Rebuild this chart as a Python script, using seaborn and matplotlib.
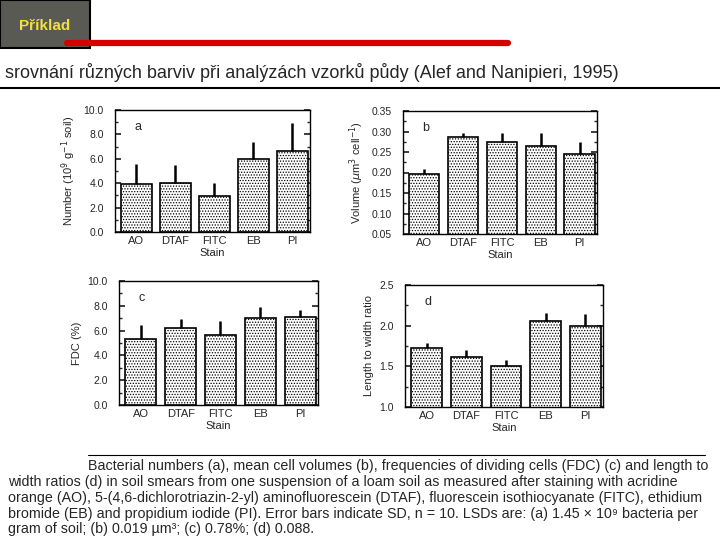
import matplotlib
matplotlib.use("Agg")
import matplotlib.pyplot as plt
import seaborn as sns
from matplotlib.patches import Rectangle
from matplotlib.lines import Line2D
from matplotlib.ticker import AutoMinorLocator, FormatStrFormatter

# data
stains = ["AO", "DTAF", "FITC", "EB", "PI"]
number_mean = [3.9, 4.05, 2.93, 5.97, 6.63]
number_sd = [1.7, 1.45, 1.05, 1.37, 2.27]
volume_mean = [0.197, 0.287, 0.275, 0.265, 0.244]
volume_sd = [0.012, 0.009, 0.021, 0.031, 0.031]
fdc_mean = [5.33, 6.21, 5.68, 7.01, 7.09]
fdc_sd = [1.1, 0.72, 1.12, 0.91, 0.6]
ratio_mean = [1.73, 1.62, 1.51, 2.06, 1.99]
ratio_sd = [0.06, 0.08, 0.07, 0.09, 0.15]

W, H = 720, 540

sns.set_theme(style="white")
plt.rcParams["font.family"] = ["Liberation Sans", "DejaVu Sans"]
plt.rcParams["hatch.linewidth"] = 0.6

fig = plt.figure(figsize=(7.2, 5.4), dpi=100)
fig.patch.set_facecolor("white")


def px_axes(x0, x1, y0, y1):
    # pixel box (top-left origin) -> figure axes
    return fig.add_axes([x0 / W, 1 - y1 / H, (x1 - x0) / W, (y1 - y0) / H])


def panel(ax, means, sds, ylim, step, fmt, ylabel, letter):
    sns.barplot(x=stains, y=means, ax=ax, color="white", edgecolor="black",
                linewidth=1.2, width=0.78, errorbar=None)
    for p in ax.patches:
        p.set_hatch("......")
        p.set_facecolor("white")
    ax.errorbar(range(len(stains)), means, yerr=[[0] * len(sds), sds],
                fmt="none", ecolor="black", elinewidth=1.8, capsize=0)
    ax.set_xlim(-0.55, 4.45)
    ax.set_ylim(*ylim)
    ticks = []
    v = ylim[0]
    while v <= ylim[1] + 1e-9:
        ticks.append(v)
        v += step
    ax.set_yticks(ticks)
    ax.yaxis.set_major_formatter(FormatStrFormatter(fmt))
    ax.yaxis.set_minor_locator(AutoMinorLocator(2))
    ax.tick_params(axis="y", which="both", direction="in", left=True, right=True,
                   labelsize=7.5, pad=8)
    ax.tick_params(axis="y", which="major", length=4)
    ax.tick_params(axis="y", which="minor", length=2)
    ax.tick_params(axis="x", direction="in", bottom=True, length=3, labelsize=8, pad=3)
    for s in ax.spines.values():
        s.set_color("black")
        s.set_linewidth(1.0)
    ax.set_xlabel("Stain", fontsize=8, labelpad=1)
    ax.set_ylabel(ylabel, fontsize=8, labelpad=4)
    ax.text(0.10, 0.84, letter, transform=ax.transAxes, fontsize=9)


ax_a = px_axes(115, 310, 110, 232)
panel(ax_a, number_mean, number_sd, (0, 10), 2.0, "%.1f",
      r"Number (10$^9$ g$^{-1}$ soil)", "a")
ax_b = px_axes(403, 597, 111, 234)
panel(ax_b, volume_mean, volume_sd, (0.05, 0.35), 0.05, "%.2f",
      r"Volume ($\mu$m$^3$ cell$^{-1}$)", "b")
ax_c = px_axes(119, 318, 281, 405)
panel(ax_c, fdc_mean, fdc_sd, (0, 10), 2.0, "%.1f", "FDC (%)", "c")
ax_d = px_axes(405, 603, 285, 407)
panel(ax_d, ratio_mean, ratio_sd, (1.0, 2.5), 0.5, "%.1f",
      "Length to width ratio", "d")

# slide header: logo, red rule, title and frame
fig.patches.append(Rectangle((0, 1 - 48 / H), 90 / W, 48 / H, transform=fig.transFigure,
                             facecolor="#5a5a55", edgecolor="black", lw=1.5))
fig.text(45 / W, 1 - 26 / H, "Příklad", color="#f0e040", fontsize=11, fontweight="bold",
         ha="center", va="center", fontstretch="condensed")
fig.add_artist(Line2D([67 / W, 508 / W], [1 - 43 / H, 1 - 43 / H], color="#d40000", lw=4.5))
fig.text(5 / W, 1 - 72 / H, "srovnání různých barviv při analýzách vzorků půdy (Alef and Nanipieri, 1995)",
         fontsize=13, va="center", ha="left")
fig.add_artist(Line2D([0, 1], [1 - 88 / H, 1 - 88 / H], color="black", lw=1.5))

# caption (one block, first line indented)
fig.add_artist(Line2D([88 / W, 705 / W], [1 - 455 / H, 1 - 455 / H], color="black", lw=0.8))
caption = "\n".join([
    " " * 20 + "Bacterial numbers (a), mean cell volumes (b), frequencies of dividing cells (FDC) (c) and length to",
    "width ratios (d) in soil smears from one suspension of a loam soil as measured after staining with acridine",
    "orange (AO), 5-(4,6-dichlorotriazin-2-yl) aminofluorescein (DTAF), fluorescein isothiocyanate (FITC), ethidium",
    "bromide (EB) and propidium iodide (PI). Error bars indicate SD, n = 10. LSDs are: (a) 1.45 × 10⁹ bacteria per",
    "gram of soil; (b) 0.019 µm³; (c) 0.78%; (d) 0.088.",
])
fig.text(8 / W, 1 - 459 / H, caption, fontsize=10.3, va="top", ha="left", linespacing=1.17)

fig.savefig("out.png", dpi=100)
